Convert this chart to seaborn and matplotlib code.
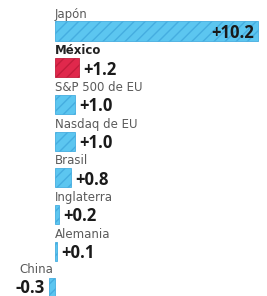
import matplotlib
matplotlib.use("Agg")
import matplotlib.pyplot as plt
import seaborn as sns
import pandas as pd

categories = ["Japón", "México", "S&P 500 de EU", "Nasdaq de EU", "Brasil", "Inglaterra", "Alemania", "China"]
values = [10.2, 1.2, 1.0, 1.0, 0.8, 0.2, 0.1, -0.3]
value_labels = ["+10.2", "+1.2", "+1.0", "+1.0", "+0.8", "+0.2", "+0.1", "-0.3"]
highlight = "México"

BLUE = "#5cc6f0"
BLUE_EDGE = "#45ade0"
RED = "#e0284c"
RED_EDGE = "#c21d3c"

df = pd.DataFrame({"cat": categories, "val": values})
palette = {c: (RED if c == highlight else BLUE) for c in categories}

sns.set_theme(style="white")
plt.rcParams["font.family"] = ["Open Sans", "DejaVu Sans"]

fig = plt.figure(figsize=(2.67, 2.96), dpi=100)
ax = fig.add_axes([0, 0, 1, 1])
sns.barplot(data=df, x="val", y="cat", hue="cat", palette=palette, legend=False,
            orient="h", width=0.52, ax=ax, saturation=1)

for p, c in zip(ax.patches, categories):
    p.set_edgecolor(RED_EDGE if c == highlight else BLUE_EDGE)
    p.set_hatch("///")
    p.set_linewidth(0.6)

ax.set_xlim(-2.76, 10.65)
ax.set_ylim(7.22, -0.845)
ax.axis("off")

for i, (c, v, lab) in enumerate(zip(categories, values, value_labels)):
    bold = (c == highlight)
    if v >= 0:
        ax.annotate(c, xy=(0, i - 0.46), xytext=(0, 0), textcoords="offset points",
                    ha="left", va="center", fontsize=8.5, family=["DejaVu Sans"],
                    color="#222222" if bold else "#5a5a5a",
                    fontweight="bold" if bold else "normal")
    else:
        ax.annotate(c, xy=(0, i - 0.5), xytext=(-1.5, 0), textcoords="offset points",
                    ha="right", va="center", fontsize=8.5, family=["DejaVu Sans"],
                    color="#5a5a5a")
    if i == 0:
        ax.annotate(lab, xy=(v, i + 0.05), xytext=(-3, 0), textcoords="offset points",
                    ha="right", va="center", fontsize=12, fontweight="bold", color="#1a1a1a")
    elif v >= 0:
        ax.annotate(lab, xy=(v, i + 0.05), xytext=(3, 0), textcoords="offset points",
                    ha="left", va="center", fontsize=12, fontweight="bold", color="#1a1a1a")
    else:
        ax.annotate(lab, xy=(v, i), xytext=(-3, 0), textcoords="offset points",
                    ha="right", va="center", fontsize=12, fontweight="bold", color="#1a1a1a")

fig.savefig("out.png", dpi=100)
